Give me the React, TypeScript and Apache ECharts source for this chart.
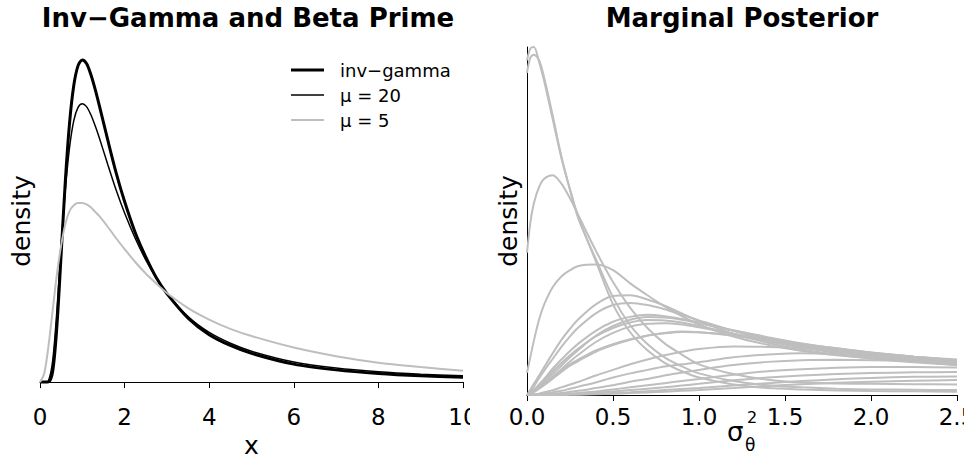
import React, { useEffect, useRef } from 'react';
import * as echarts from 'echarts';

const FONT = '"DejaVu Sans", "Liberation Sans", sans-serif';
const GRAY = '#BEBEBE';

// ---------- Left panel data ----------
const xLeft = [0, 0.1, 0.2, 0.3, 0.4, 0.5, 0.6, 0.7, 0.8, 0.9, 1.0, 1.1, 1.2, 1.3, 1.4, 1.6, 1.8, 2.0, 2.25, 2.5, 2.75, 3.0, 3.5, 4.0, 4.5, 5, 6, 7, 8, 9, 10];
const invGamma = [0, 0, 0.0003, 0.015, 0.078, 0.178, 0.281, 0.361, 0.413, 0.44, 0.448, 0.443, 0.428, 0.408, 0.385, 0.337, 0.291, 0.251, 0.208, 0.174, 0.145, 0.123, 0.089, 0.066, 0.051, 0.04, 0.025, 0.017, 0.012, 0.0088, 0.0067];
const mu20 = [0, 0, 0.002, 0.03, 0.1, 0.19, 0.268, 0.327, 0.364, 0.382, 0.387, 0.383, 0.372, 0.357, 0.34, 0.303, 0.267, 0.235, 0.2, 0.17, 0.145, 0.124, 0.091, 0.069, 0.054, 0.043, 0.028, 0.0195, 0.0143, 0.011, 0.0088];
const mu5 = [0, 0.012, 0.05, 0.1, 0.15, 0.19, 0.22, 0.238, 0.246, 0.249, 0.249, 0.247, 0.243, 0.237, 0.231, 0.216, 0.2, 0.185, 0.167, 0.151, 0.137, 0.124, 0.103, 0.087, 0.074, 0.064, 0.048, 0.036, 0.027, 0.021, 0.0157];
const leftTicks = [0, 10, 2]; // min, max, step
const leftNames = ['inv\u2212gamma', '\u03bc = 20', '\u03bc = 5'];

// ---------- Right panel data ----------
const sigma = [0, 0.02, 0.04, 0.07, 0.1, 0.15, 0.2, 0.25, 0.3, 0.4, 0.5, 0.6, 0.7, 0.8, 0.9, 1.0, 1.2, 1.4, 1.6, 1.8, 2.0, 2.25, 2.5];
const postA = [4.8, 4.97, 4.99, 4.78, 4.5, 3.95, 3.4, 2.95, 2.54, 1.92, 1.3, 0.9, 0.64, 0.46, 0.34, 0.25, 0.15, 0.1, 0.08, 0.065, 0.058, 0.052, 0.048];
const postB = [4.62, 4.84, 4.88, 4.8, 4.55, 4.0, 3.42, 2.94, 2.52, 1.95, 1.4, 1.0, 0.73, 0.54, 0.41, 0.31, 0.2, 0.14, 0.11, 0.09, 0.08, 0.075, 0.07];
const postC2 = [2.04, 2.48, 2.75, 2.98, 3.1, 3.15, 3.03, 2.82, 2.57, 2.07, 1.62, 1.25, 0.96, 0.74, 0.58, 0.44, 0.3, 0.22, 0.18, 0.165, 0.16, 0.155, 0.15];
const postC3 = [0.32, 0.55, 0.78, 1.08, 1.3, 1.55, 1.7, 1.79, 1.85, 1.87, 1.79, 1.6, 1.43, 1.27, 1.13, 1.01, 0.84, 0.72, 0.63, 0.57, 0.53, 0.5, 0.48];
const postC4 = [0, 0.08, 0.16, 0.28, 0.4, 0.6, 0.79, 0.95, 1.09, 1.3, 1.42, 1.43, 1.37, 1.28, 1.17, 1.06, 0.88, 0.75, 0.65, 0.58, 0.52, 0.47, 0.43];
const postC5 = [0, 0.05, 0.12, 0.24, 0.35, 0.52, 0.69, 0.84, 0.97, 1.17, 1.29, 1.32, 1.29, 1.23, 1.15, 1.07, 0.92, 0.8, 0.7, 0.62, 0.56, 0.5, 0.45];
const postC6 = [0, 0.03, 0.07, 0.15, 0.23, 0.38, 0.51, 0.63, 0.74, 0.92, 1.05, 1.12, 1.15, 1.13, 1.09, 1.04, 0.92, 0.81, 0.72, 0.64, 0.58, 0.52, 0.47];
const postC7 = [0, 0.02, 0.05, 0.11, 0.18, 0.3, 0.42, 0.54, 0.65, 0.85, 0.99, 1.08, 1.12, 1.11, 1.08, 1.03, 0.93, 0.83, 0.74, 0.67, 0.61, 0.55, 0.5];
const postC8 = [0, 0.03, 0.07, 0.14, 0.21, 0.34, 0.46, 0.57, 0.67, 0.84, 0.96, 1.04, 1.075, 1.07, 1.04, 0.99, 0.88, 0.77, 0.68, 0.6, 0.54, 0.48, 0.43];
const postC9 = [0, 0.02, 0.04, 0.09, 0.15, 0.26, 0.37, 0.48, 0.58, 0.76, 0.89, 0.98, 1.02, 1.03, 1.01, 0.97, 0.88, 0.79, 0.71, 0.64, 0.58, 0.52, 0.47];
const postC10 = [0, 0.03, 0.06, 0.1, 0.15, 0.25, 0.35, 0.44, 0.51, 0.64, 0.73, 0.8, 0.855, 0.89, 0.91, 0.9, 0.85, 0.78, 0.71, 0.65, 0.59, 0.53, 0.48];
const postC10b = [0, 0.025, 0.055, 0.095, 0.14, 0.235, 0.33, 0.42, 0.49, 0.62, 0.715, 0.79, 0.85, 0.885, 0.905, 0.9, 0.86, 0.8, 0.73, 0.67, 0.61, 0.55, 0.5];
const postC11 = [0, 0.005, 0.01, 0.02, 0.04, 0.07, 0.11, 0.15, 0.19, 0.28, 0.36, 0.44, 0.51, 0.57, 0.62, 0.66, 0.695, 0.69, 0.67, 0.63, 0.6, 0.55, 0.51];
const postC12 = [0, 0, 0.005, 0.01, 0.02, 0.04, 0.06, 0.09, 0.12, 0.18, 0.25, 0.31, 0.36, 0.41, 0.44, 0.47, 0.54, 0.58, 0.6, 0.585, 0.56, 0.53, 0.5];
const postC13 = [0, 0, 0, 0.005, 0.01, 0.02, 0.03, 0.045, 0.06, 0.1, 0.14, 0.19, 0.23, 0.28, 0.32, 0.36, 0.43, 0.475, 0.5, 0.505, 0.5, 0.485, 0.47];
const postC14 = [0, 0, 0, 0, 0.005, 0.01, 0.015, 0.022, 0.03, 0.05, 0.08, 0.11, 0.14, 0.17, 0.2, 0.23, 0.29, 0.34, 0.37, 0.39, 0.4, 0.4, 0.395];
const postC15 = [0, 0, 0, 0, 0, 0.005, 0.01, 0.015, 0.02, 0.035, 0.05, 0.07, 0.09, 0.11, 0.135, 0.16, 0.21, 0.25, 0.28, 0.3, 0.315, 0.325, 0.33];
const postC16 = [0, 0, 0, 0, 0, 0, 0.003, 0.006, 0.01, 0.02, 0.03, 0.04, 0.055, 0.07, 0.085, 0.1, 0.135, 0.17, 0.2, 0.225, 0.245, 0.26, 0.265];
const postC17 = [0, 0, 0, 0, 0, 0, 0, 0.003, 0.005, 0.01, 0.018, 0.027, 0.037, 0.048, 0.06, 0.072, 0.1, 0.13, 0.155, 0.175, 0.19, 0.205, 0.215];
const posteriors = [postA, postB, postC2, postC3, postC4, postC5, postC6, postC7, postC8, postC9, postC10, postC10b, postC11, postC12, postC13, postC14, postC15, postC16, postC17];
const rightTicks = [0, 2.5, 0.5];

const pairs = (xs: number[], ys: number[]) => xs.map((x, i) => [x, ys[i]]);

const leftMaxY = Math.max(...invGamma, ...mu20, ...mu5);
const leftPad = leftMaxY * 0.04;
const rightMaxY = Math.max(...posteriors.flat());

// legend icons: horizontal bars of the series' line width inside a 33x14 box
const barIcon = (w: number) => `path://M0,0M33,14M0,${7 - w / 2}H33V${7 + w / 2}H0Z`;

function buildLeft(): any {
  const lineSeries = (name: string, data: number[], color: string, width: number) => ({
    type: 'line',
    name,
    data: pairs(xLeft, data),
    showSymbol: false,
    symbol: 'none',
    smooth: 0.3,
    silent: true,
    lineStyle: { color, width },
    itemStyle: { color },
  });
  return {
    animation: false,
    graphic: [
      {
        type: 'text',
        x: 248,
        y: 18,
        style: {
          text: 'Inv\u2212Gamma and Beta Prime',
          fontFamily: FONT,
          fontSize: 26,
          fontWeight: 'bold',
          fill: '#000',
          align: 'center',
          verticalAlign: 'middle',
        },
      },
    ],
    legend: {
      orient: 'vertical',
      left: 291,
      top: 61,
      padding: 0,
      itemWidth: 33,
      itemHeight: 14,
      itemGap: 7,
      data: [
        { name: leftNames[0], icon: barIcon(3) },
        { name: leftNames[1], icon: barIcon(1.5) },
        { name: leftNames[2], icon: barIcon(2) },
      ],
      textStyle: { fontFamily: FONT, fontSize: 18, color: '#000', padding: [0, 0, 0, 11] },
    },
    grid: { left: 40, right: 7, top: 47, bottom: 60, outerBoundsMode: 'none', containLabel: false },
    xAxis: {
      type: 'value',
      min: leftTicks[0],
      max: leftTicks[1],
      interval: leftTicks[2],
      name: 'x',
      nameLocation: 'middle',
      nameGap: 32,
      nameTextStyle: { fontFamily: FONT, fontSize: 25, lineHeight: 20, color: '#000' },
      axisLine: { show: true, lineStyle: { color: '#000', width: 1 } },
      axisTick: { show: true, length: 6, lineStyle: { color: '#000', width: 1 } },
      axisLabel: { color: '#000', fontFamily: FONT, fontSize: 23, margin: 10 },
      splitLine: { show: false },
    },
    yAxis: {
      type: 'value',
      min: -leftPad,
      max: leftMaxY + leftPad,
      name: 'density',
      nameLocation: 'middle',
      nameRotate: 90,
      nameGap: 6,
      nameTextStyle: { fontFamily: FONT, fontSize: 25, color: '#000' },
      axisLine: { show: false },
      axisTick: { show: false },
      axisLabel: { show: false },
      splitLine: { show: false },
    },
    series: [
      lineSeries(leftNames[0], invGamma, '#000', 3),
      lineSeries(leftNames[1], mu20, '#000', 1.5),
      lineSeries(leftNames[2], mu5, GRAY, 2),
    ],
  };
}

function buildRight(): any {
  return {
    animation: false,
    graphic: [
      {
        type: 'text',
        x: 272,
        y: 18,
        style: {
          text: 'Marginal Posterior',
          fontFamily: FONT,
          fontSize: 26,
          fontWeight: 'bold',
          fill: '#000',
          align: 'center',
          verticalAlign: 'middle',
        },
      },
      {
        type: 'text',
        x: 257,
        y: 432,
        style: { text: '\u03c3', fontFamily: FONT, fontSize: 26, fill: '#000', align: 'left', verticalAlign: 'middle' },
      },
      {
        type: 'text',
        x: 277,
        y: 417,
        style: { text: '2', fontFamily: FONT, fontSize: 16, fill: '#000', align: 'left', verticalAlign: 'middle' },
      },
      {
        type: 'text',
        x: 275,
        y: 445,
        style: { text: '\u03b8', fontFamily: FONT, fontSize: 17, fill: '#000', align: 'left', verticalAlign: 'middle' },
      },
    ],
    grid: { left: 57, right: 7, top: 47, bottom: 60, outerBoundsMode: 'none', containLabel: false },
    xAxis: {
      type: 'value',
      min: rightTicks[0],
      max: rightTicks[1],
      interval: rightTicks[2],
      axisLine: { show: true, lineStyle: { color: '#000', width: 1 } },
      axisTick: { show: true, length: 6, lineStyle: { color: '#000', width: 1 } },
      axisLabel: {
        color: '#000',
        fontFamily: FONT,
        fontSize: 23,
        margin: 10,
        formatter: (v: number) => v.toFixed(1),
      },
      splitLine: { show: false },
    },
    yAxis: {
      type: 'value',
      min: 0,
      max: rightMaxY,
      name: 'density',
      nameLocation: 'middle',
      nameRotate: 90,
      nameGap: 6,
      nameTextStyle: { fontFamily: FONT, fontSize: 25, color: '#000' },
      axisLine: { show: true, lineStyle: { color: '#000', width: 1 } },
      axisTick: { show: false },
      axisLabel: { show: false },
      splitLine: { show: false },
    },
    series: posteriors.map((p, i) => ({
      type: 'line',
      name: 'post' + i,
      data: pairs(sigma, p),
      showSymbol: false,
      symbol: 'none',
      smooth: 0.3,
      silent: true,
      lineStyle: { color: GRAY, width: 2 },
    })),
  };
}

export default function App() {
  const leftRef = useRef<HTMLDivElement>(null);
  const rightRef = useRef<HTMLDivElement>(null);
  useEffect(() => {
    const l = echarts.init(leftRef.current as HTMLDivElement, undefined, { renderer: 'svg' });
    const r = echarts.init(rightRef.current as HTMLDivElement, undefined, { renderer: 'svg' });
    l.setOption(buildLeft());
    r.setOption(buildRight());
    return () => {
      l.dispose();
      r.dispose();
    };
  }, []);
  return (
    <div style={{ position: 'fixed', left: 0, top: 0, width: 964, height: 455, background: '#fff', overflow: 'hidden' }}>
      <div ref={leftRef} style={{ position: 'absolute', left: 0, top: 0, width: 470, height: 455 }} />
      <div ref={rightRef} style={{ position: 'absolute', left: 470, top: 0, width: 494, height: 455 }} />
    </div>
  );
}
